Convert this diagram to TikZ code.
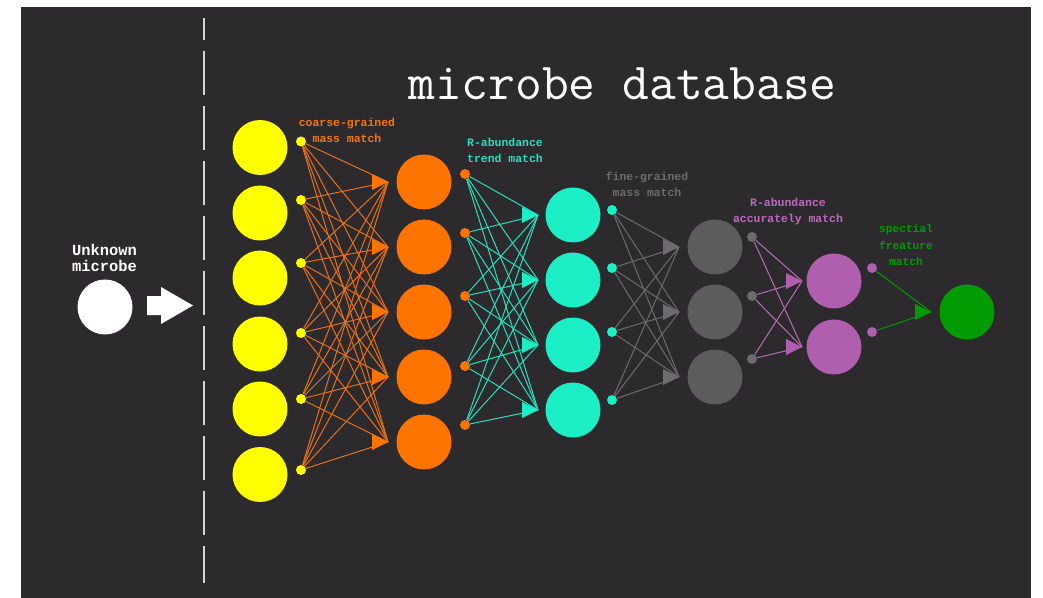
\documentclass[tikz,border=0pt]{standalone}
\usepackage{fontspec}
\newfontfamily\labelfont{Liberation Mono}

\definecolor{board}{RGB}{44,42,45}
\definecolor{lemon}{RGB}{255,255,0}
\definecolor{carrot}{RGB}{255,115,0}
\definecolor{carrotline}{RGB}{232,112,24}
\definecolor{aqua}{RGB}{28,238,198}
\definecolor{aqualine}{RGB}{40,222,190}
\definecolor{slate}{RGB}{92,92,92}
\definecolor{slateline}{RGB}{108,108,108}
\definecolor{orchid}{RGB}{176,94,174}
\definecolor{orchidline}{RGB}{186,108,186}
\definecolor{leaf}{RGB}{0,155,0}

\begin{document}
\begin{tikzpicture}[
	x=1bp, y=-1bp,
	neuron/.style={circle, inner sep=0pt, minimum size=55bp},
	knot/.style={circle, inner sep=0pt, minimum size=10bp},
	tag/.style={font=\labelfont\bfseries\fontsize{11.5}{16}\selectfont, align=center, inner sep=0pt},
	link/.style={line width=1bp}
	]

	\fill [white] (0, 0) rectangle (1043, 598);
	\fill [board] (21, 7) rectangle (1031, 598);
	\useasboundingbox (0, 0) rectangle (1043, 598);

	\draw [white!80!board, line width=1.2bp, dash pattern=on 44bp off 11bp, dash phase=22bp] (204, 18) -- (204, 583);

	\node (title) at (622.5, 100) [anchor=base, text=white, inner sep=0pt, font=\ttfamily\fontsize{52.2}{56}\selectfont] {microbe database};

	% unknown sample
	\node (unknown) at (105, 307) [neuron, fill=white] {};
	\node (unknownlabel) at (104.5, 258) [tag, text=white, font=\labelfont\bfseries\fontsize{15.5}{16}\selectfont] {Unknown\\microbe};
	\fill [white] (147, 296) --++ (14, 0) --++ (0, -9) --++ (32, 18.5) --++ (-32, 18.5) --++ (0, -9) --++ (-14, 0) -- cycle;

	% layer 1
	\foreach \y [count=\i] in {147.5, 213, 278, 344, 409, 474.5}
		\node (y\i) at (260, \y) [neuron, fill=lemon] {};
	\foreach \y [count=\i] in {141.5, 200, 263, 333, 399, 470}
		\node (yd\i) at (301, \y) [knot, fill=lemon] {};

	% layer 2
	\foreach \y [count=\i] in {182, 247, 312, 377, 442} {
		\node (o\i) at (424, \y) [neuron, fill=carrot] {};
		\coordinate (ot\i) at (388, \y);
	}
	\foreach \y [count=\i] in {174, 233, 296, 366, 425}
		\node (od\i) at (465, \y) [knot, fill=carrot] {};
	\foreach \i in {1,...,6}
		\foreach \j in {1,...,5}
			\draw [link, carrotline] (yd\i) -- (ot\j);
	\foreach \j in {1,...,5}
		\fill [carrot] (ot\j) --++ (-16, -8) --++ (0, 16) -- cycle;
	\node (coarse) at (347, 130) [tag, text=carrot] {coarse-grained\\mass match};

	% layer 3
	\foreach \y [count=\i] in {215, 280, 345, 410} {
		\node (c\i) at (573, \y) [neuron, fill=aqua] {};
		\coordinate (ct\i) at (538, \y);
	}
	\foreach \y [count=\i] in {210, 268, 332, 400}
		\node (cd\i) at (612, \y) [knot, fill=aqua] {};
	\foreach \i in {1,...,5}
		\foreach \j in {1,...,4}
			\draw [link, aqualine] (od\i) -- (ct\j);
	\foreach \j in {1,...,4}
		\fill [aqua] (ct\j) --++ (-16, -8) --++ (0, 16) -- cycle;
	\node (trend) at (505, 150) [tag, text=aqualine] {R-abundance\\trend match};

	% layer 4
	\foreach \y [count=\i] in {247, 312, 377} {
		\node (g\i) at (715, \y) [neuron, fill=slate] {};
		\coordinate (gt\i) at (679, \y);
	}
	\foreach \y [count=\i] in {237, 296, 359}
		\node (gd\i) at (752, \y) [knot, fill=slateline] {};
	\foreach \i in {1,...,4}
		\foreach \j in {1,...,3}
			\draw [link, slateline] (cd\i) -- (gt\j);
	\foreach \j in {1,...,3}
		\fill [slateline] (gt\j) --++ (-16, -8) --++ (0, 16) -- cycle;
	\node (fine) at (647, 184) [tag, text=slateline] {fine-grained\\mass match};

	% layer 5
	\foreach \y [count=\i] in {281, 347} {
		\node (p\i) at (834, \y) [neuron, fill=orchid] {};
		\coordinate (pt\i) at (802, \y);
	}
	\foreach \y [count=\i] in {268, 332}
		\node (pd\i) at (872, \y) [knot, fill=orchid] {};
	\foreach \i in {1,...,3}
		\foreach \j in {1,...,2}
			\draw [link, orchidline] (gd\i) -- (pt\j);
	\foreach \j in {1,...,2}
		\fill [orchid] (pt\j) --++ (-16, -8) --++ (0, 16) -- cycle;
	\node (accurate) at (788, 211.5) [tag, text=orchidline] {R-abundance\\accurately match};

	% result
	\node (result) at (967, 312) [neuron, fill=leaf] {};
	\coordinate (rt) at (931, 312);
	\foreach \i in {1,...,2}
		\draw [link, leaf] (pd\i) -- (rt);
	\fill [leaf] (rt) --++ (-16, -8) --++ (0, 16) -- cycle;
	\node (special) at (906, 245) [tag, text=leaf, font=\labelfont\bfseries\fontsize{11.25}{16.5}\selectfont] {spectial\\freature\\match};
\end{tikzpicture}
\end{document}
